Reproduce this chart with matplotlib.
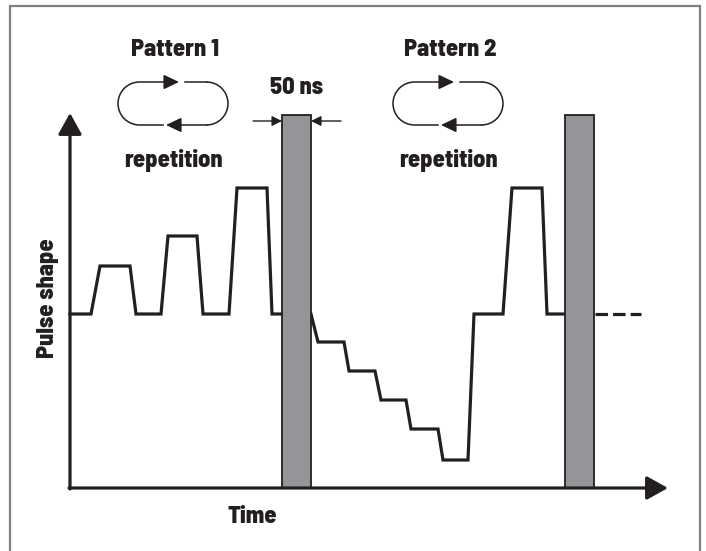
import matplotlib.pyplot as plt
from matplotlib.patches import Rectangle, Arc

# pulse levels relative to the baseline, time in arbitrary units from the y axis
time_p1 = [0, 21, 30, 60, 66, 91, 98, 127, 133, 159, 167, 197, 202, 212]
level_p1 = [0, 0, 48, 48, 0, 0, 78, 78, 0, 0, 126, 126, 0, 0]
time_p2 = [241, 248, 274, 279, 305, 311, 336, 341, 368, 373, 398, 404, 433, 442, 472, 477, 495]
level_p2 = [0, -28, -28, -57, -57, -86, -86, -115, -115, -146, -146, 0, 0, 126, 126, 0, 0]
time_next = [525, 571]
level_next = [0, 0]

gap_starts = [212, 495]   # 50 ns gaps after each pattern
gap_width = 29
pattern_names = ['Pattern 1', 'Pattern 2']

BLACK = '#231f20'
GRAY = '#939598'
FONT = ['Barlow Semi Condensed', 'DejaVu Sans']
TXT = dict(fontsize=17.5, fontweight=800, family=FONT, color=BLACK,
           ha='center', va='center')

fig = plt.figure(figsize=(7.06, 5.51), dpi=100)
ax = fig.add_axes([0, 0, 1, 1])
ax.set_xlim(-70, 636)
ax.set_ylim(-237, 314)
ax.axis('off')

# outer frame
ax.add_patch(Rectangle((-60, -250), 690, 558, fill=False, ec='#808080', lw=1.6, clip_on=False))

y_bottom = -174
y_top = 199

# waveform
line_kw = dict(color=BLACK, lw=2.3, solid_joinstyle='miter', zorder=2)
ax.plot(time_p1, level_p1, **line_kw)
ax.plot(time_p2, level_p2, **line_kw)
ax.plot(time_next, level_next, color=BLACK, lw=2.3, dashes=(3.9, 1.6), zorder=2)

# 50 ns gaps
for g in gap_starts:
    ax.add_patch(Rectangle((g, y_bottom), gap_width, y_top - y_bottom,
                           fc=GRAY, ec=BLACK, lw=1.3, zorder=3))

# axes with arrows
ax_arrow = dict(arrowstyle='-|>,head_length=1.3,head_width=0.72', color=BLACK, lw=2.3,
                shrinkA=0, shrinkB=0)
ax.annotate('', xy=(0, 201), xytext=(0, y_bottom - 1), arrowprops=ax_arrow)
ax.annotate('', xy=(598, y_bottom), xytext=(-1, y_bottom), arrowprops=ax_arrow)

# 50 ns markers
small = dict(arrowstyle='-|>,head_length=0.6,head_width=0.3', color=BLACK, lw=1.0,
             shrinkA=0, shrinkB=0)
g = gap_starts[0]
ax.annotate('', xy=(g, 193), xytext=(g - 29, 193), arrowprops=small)
ax.annotate('', xy=(g + gap_width, 193), xytext=(g + gap_width + 30, 193), arrowprops=small)
ax.text(g + gap_width / 2, 226, '50 ns', **TXT)


def loop(cx, cy):
    r, half = 21.5, 33.5
    kw = dict(color=BLACK, lw=1.1)
    top, bot = cy + r, cy - r
    ax.plot([cx + 12, cx + half], [top, top], **kw)
    ax.plot([cx - 10, cx - half], [bot, bot], **kw)
    ax.plot([cx + 6, cx + half], [bot, bot], **kw)
    ax.plot([cx - half, cx - 7], [top, top], **kw)
    ax.add_patch(Arc((cx + half, cy), 2 * r, 2 * r, theta1=-90, theta2=90, **kw))
    ax.add_patch(Arc((cx - half, cy), 2 * r, 2 * r, theta1=90, theta2=270, **kw))
    head = dict(arrowstyle='-|>,head_length=0.94,head_width=0.45', color=BLACK, lw=1.1,
                shrinkA=0, shrinkB=0)
    ax.annotate('', xy=(cx + 6, top), xytext=(cx - 7, top), arrowprops=head)
    ax.annotate('', xy=(cx - 7, bot), xytext=(cx + 6, bot), arrowprops=head)


for cx, name in zip([103, 378], pattern_names):
    loop(cx, 210.5)
    ax.text(cx + 2, 264, name, **TXT)
    ax.text(cx, 154, 'repetition', **TXT)

ax.text(-22, 16, 'Pulse shape', rotation=90, **TXT)
ax.text(182, -203, 'Time', **TXT)

fig.savefig('out.png', dpi=100)
